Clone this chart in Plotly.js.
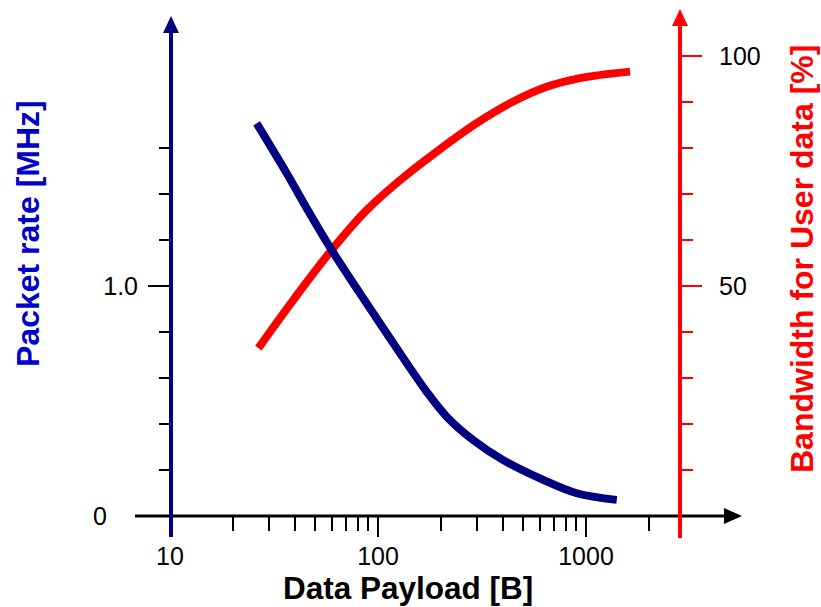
<!DOCTYPE html>
<html>
<head>
<meta charset="utf-8">
<script src="https://cdn.plot.ly/plotly-3.0.1.min.js"></script>
<style>html,body{margin:0;padding:0;background:#fff;}#chart{width:821px;height:607px;}</style>
</head>
<body>
<div id="chart"></div>
<script>
// ---- data ----
const payloadRate = [26.1, 36.4, 45.4, 59.8, 81.9, 118.5, 171.5, 214, 287, 400, 623, 902, 1406];
const packetRateMHz = [1.707, 1.49, 1.338, 1.157, 0.968, 0.751, 0.540, 0.432, 0.330, 0.243, 0.157, 0.099, 0.070];

const payloadBw = [26.6, 39.2, 59.8, 88.2, 127.6, 191.4, 298, 447, 647, 935, 1629];
const bandwidthPct = [36.5, 47.0, 57.8, 66.5, 73.0, 79.2, 85.4, 90.1, 93.3, 95.2, 96.6];

const xMajorTicks = [10, 100, 1000];
const xMajorLabels = ['10', '100', '1000'];
const xMinorTicks = [20, 30, 40, 50, 60, 70, 80, 90, 200, 300, 400, 500, 600, 700, 800, 900, 2000];
const leftMajorTicks = [1.0];
const leftMajorLabels = ['1.0'];
const leftMinorTicks = [0.2, 0.4, 0.6, 0.8, 1.2, 1.4, 1.6];
const rightMajorTicks = [50, 100];
const rightMajorLabels = ['50', '100'];
const rightMinorTicks = [10, 20, 30, 40, 60, 70, 80, 90];

const xTitle = 'Data Payload [B]';
const leftTitle = 'Packet rate [MHz]';
const rightTitle = 'Bandwidth for User data [%]';

// ---- layout helpers (pixel -> paper) ----
const W = 821, H = 607, L = 135, R = 81, T = 10, B = 72;
const pw = W - L - R, ph = H - T - B;
const px = x => (x - L) / pw;
const py = y => (H - B - y) / ph;

const FONT = 'Liberation Sans, Arial, sans-serif';
const NAVY = '#000080', RED = '#ff0000', BLUE = '#0000cc';

const traces = [
  {x: payloadBw, y: bandwidthPct, xaxis: 'x', yaxis: 'y', mode: 'lines',
   line: {color: RED, width: 8, shape: 'spline', smoothing: 1}, hoverinfo: 'skip'},
  {x: payloadRate, y: packetRateMHz, xaxis: 'x', yaxis: 'y2', mode: 'lines',
   line: {color: NAVY, width: 8, shape: 'spline', smoothing: 1}, hoverinfo: 'skip'}
];

const tri = (a, b, c) => `M${px(a[0])},${py(a[1])} L${px(b[0])},${py(b[1])} L${px(c[0])},${py(c[1])} Z`;

const layout = {
  width: W, height: H,
  margin: {l: L, r: R, t: T, b: B},
  paper_bgcolor: '#fff', plot_bgcolor: '#fff',
  showlegend: false,
  font: {family: FONT, size: 25, color: '#000'},
  xaxis: {
    type: 'log', range: [0.8317, 3.7404],
    anchor: 'free', position: py(516),
    showgrid: false, zeroline: false, showline: false,
    tickmode: 'array', tickvals: xMajorTicks, ticktext: xMajorLabels,
    ticks: 'outside', ticklen: 20, tickwidth: 2, tickcolor: '#000',
    ticklabelstandoff: -2,
    tickfont: {family: FONT, size: 25, color: '#000'},
    minor: {tickmode: 'array', tickvals: xMinorTicks, ticks: 'outside', ticklen: 14, tickwidth: 2, tickcolor: '#000', showgrid: false}
  },
  yaxis: {
    range: [-0.0826 * 50, 2.2 * 50],
    anchor: 'free', position: px(680), side: 'right',
    showgrid: false, zeroline: false, showline: false,
    tickmode: 'array', tickvals: rightMajorTicks, ticktext: rightMajorLabels,
    ticks: 'outside', ticklen: 21, tickwidth: 2, tickcolor: RED,
    ticklabelstandoff: 12,
    tickfont: {family: FONT, size: 25, color: '#000'},
    minor: {tickmode: 'array', tickvals: rightMinorTicks, ticks: 'outside', ticklen: 12, tickwidth: 2, tickcolor: RED, showgrid: false}
  },
  yaxis2: {
    range: [-0.0826, 2.2],
    overlaying: 'y', anchor: 'free', position: px(171), side: 'left',
    showgrid: false, zeroline: false, showline: false,
    tickmode: 'array', tickvals: leftMajorTicks, ticktext: leftMajorLabels,
    ticks: 'outside', ticklen: 23, tickwidth: 2, tickcolor: '#000',
    ticklabelstandoff: 5,
    tickfont: {family: FONT, size: 25, color: '#000'},
    minor: {tickmode: 'array', tickvals: leftMinorTicks, ticks: 'outside', ticklen: 12, tickwidth: 2, tickcolor: '#000', showgrid: false}
  },
  shapes: [
    // x axis line + arrow
    {type: 'line', xref: 'paper', yref: 'paper', x0: px(135), x1: px(727), y0: py(516), y1: py(516), line: {color: '#000', width: 3}, layer: 'above'},
    {type: 'path', xref: 'paper', yref: 'paper', path: tri([742, 516], [724, 508], [724, 524]), fillcolor: '#000', line: {width: 0}, layer: 'above'},
    // left (blue) axis line + arrow
    {type: 'line', xref: 'paper', yref: 'paper', x0: px(171), x1: px(171), y0: py(537), y1: py(30), line: {color: NAVY, width: 4}, layer: 'above'},
    {type: 'path', xref: 'paper', yref: 'paper', path: tri([171, 16], [163, 33], [179, 33]), fillcolor: NAVY, line: {width: 0}, layer: 'above'},
    // right (red) axis line + arrow
    {type: 'line', xref: 'paper', yref: 'paper', x0: px(680), x1: px(680), y0: py(538), y1: py(22), line: {color: RED, width: 4}, layer: 'above'},
    {type: 'path', xref: 'paper', yref: 'paper', path: tri([680, 9], [672, 26], [688, 26]), fillcolor: RED, line: {width: 0}, layer: 'above'}
  ],
  annotations: [
    {text: '0', xref: 'paper', yref: 'y2', x: px(100), y: 0, xanchor: 'center', yanchor: 'middle', showarrow: false,
     font: {family: FONT, size: 25, color: '#000'}},
    {text: '<b>' + xTitle + '</b>', xref: 'paper', yref: 'paper', x: px(408), y: py(588), xanchor: 'center', yanchor: 'middle', showarrow: false,
     font: {family: FONT, size: 31.5, color: '#000'}},
    {text: '<b>' + leftTitle + '</b>', xref: 'paper', yref: 'paper', x: px(28), y: py(234), xanchor: 'center', yanchor: 'middle', textangle: -90, showarrow: false,
     font: {family: FONT, size: 32, color: BLUE}},
    {text: '<b>' + rightTitle + '</b>', xref: 'paper', yref: 'paper', x: px(802), y: py(259), xanchor: 'center', yanchor: 'middle', textangle: -90, showarrow: false,
     font: {family: FONT, size: 32, color: RED}}
  ]
};

Plotly.newPlot('chart', traces, layout, {displayModeBar: false, staticPlot: true});
</script>
</body>
</html>
